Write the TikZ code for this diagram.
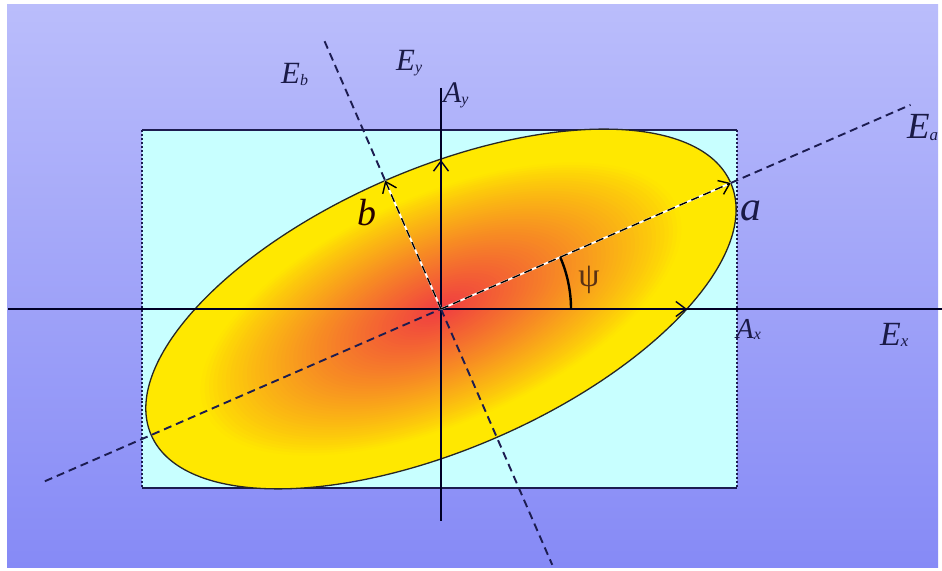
\documentclass[tikz,border=0pt]{standalone}
\usepackage{fontspec}
\setmainfont{Liberation Serif}
\usetikzlibrary{arrows.meta,calc}
\definecolor{bgtop}{RGB}{186,189,251}
\definecolor{bgbot}{RGB}{134,138,246}
\definecolor{boxfill}{RGB}{200,255,255}
\definecolor{navy}{RGB}{28,28,80}
\definecolor{elred}{RGB}{240,60,66}
\definecolor{elyel}{RGB}{255,232,0}
\definecolor{labc}{RGB}{26,26,70}
\definecolor{psic}{RGB}{90,50,20}
\newcommand\mylbl[4]{{\fontsize{#3}{#3}\selectfont\itshape #1}\raisebox{-0.35ex}{\fontsize{#4}{#4}\selectfont\itshape #2}}
\begin{document}
\begin{tikzpicture}[x=1bp,y=-1bp,
  axisline/.style={draw=black!85!blue, line width=1.2bp},
  dashline/.style={draw=navy, line width=1.9bp, dash pattern=on 8bp off 5bp},
  whiteline/.style={draw=white, line width=1.9bp},
  vecarrow/.style={line width=1.4bp, -{Straight Barb[length=10bp,width=15bp]}},
  lab/.style={inner sep=0pt, anchor=base west, text=labc},
  boxedge/.style={draw=navy, line width=1.5bp},
  boxside/.style={draw=navy, line width=2bp, dotted}]
\useasboundingbox (0,0) rectangle (942,571);
\fill[white] (0,0) rectangle (942,571);
\shade[top color=bgtop, bottom color=bgbot] (7,5) rectangle (938,567);

\coordinate (O) at (441,309);
\coordinate (R1) at (142,130);
\coordinate (R2) at (737,130);
\coordinate (R3) at (737,488);
\coordinate (R4) at (142,488);

\fill[boxfill] (R1) rectangle (R3);
\draw[boxedge] (R1) -- (R2);
\draw[boxedge] (R4) -- (R3);
\draw[boxside] (R2) -- (R3);
\draw[boxside] (R1) -- (R4);

\foreach \k in {0,...,69}{
  \pgfmathsetmacro\s{1-\k/70}
  \pgfmathsetmacro\u{max(0.0001,(0.82-\s)/0.82)}
  \pgfmathsetmacro\r{min(100,100*\u^0.85)}
  \fill[elred!\r!elyel, rotate around={23.5:(O)}] (O) ellipse[x radius=\s*316bp, y radius=\s*140bp];
}
\draw[black!85, line width=1.3bp, rotate around={23.5:(O)}] (O) ellipse[x radius=316bp, y radius=140bp];

\coordinate (Atip) at ($(O)+(23.5:316bp)$);
\coordinate (Btip) at ($(O)+(113.5:140bp)$);
\coordinate (Ea1) at ($(O)+(203.5:432bp)$);
\coordinate (Ea2) at ($(O)+(23.5:512bp)$);
\coordinate (Eb1) at ($(O)+(113.5:292bp)$);
\coordinate (Eb2) at ($(O)+(293.5:279bp)$);
\coordinate (Ax0) at (8,309);
\coordinate (Ax1) at (942,309);
\coordinate (Ay0) at (441,88);
\coordinate (Ay1) at (441,521);
\coordinate (AxT) at (687,309);
\coordinate (AyT) at (441,160);
\coordinate (ArcS) at ($(O)+(0:130bp)$);

\draw[axisline] (Ax0) -- (Ax1);
\draw[axisline] (Ay0) -- (Ay1);
\draw[axisline, vecarrow] (O) -- (AxT);
\draw[axisline, vecarrow] (O) -- (AyT);

\draw[dashline] (Ea1) -- (O);
\draw[dashline] (Atip) -- (Ea2);
\draw[dashline] (Eb1) -- (Btip);
\draw[dashline] (O) -- (Eb2);

\draw[whiteline] (O) -- (Atip);
\draw[whiteline] (O) -- (Btip);
\draw[dashline, draw=black, vecarrow] (O) -- (Atip);
\draw[dashline, draw=black, vecarrow] (O) -- (Btip);

\draw[black, line width=2.4bp] (ArcS) arc[start angle=0, end angle=23.5, radius=130bp];

\node[lab] (lEb) at (281,84) {\mylbl{E}{b}{31}{16}};
\node[lab] (lEy) at (396,71) {\mylbl{E}{y}{31}{16}};
\node[lab] (lAy) at (443,103) {\mylbl{A}{y}{30}{16}};
\node[lab] (lEa) at (907,139) {\mylbl{E}{a}{37}{17}};
\node[lab] (la) at (740,221) {\fontsize{42}{42}\selectfont\itshape a};
\node[lab, text=black!85!red] (lb) at (357,226) {\fontsize{38}{38}\selectfont\itshape b};
\node[inner sep=0pt, text=psic] (lpsi) at (589,280) {\fontsize{34}{34}\selectfont ψ};
\node[lab] (lAx) at (736,338) {\mylbl{A}{x}{29}{16}};
\node[lab] (lEx) at (880,345) {\mylbl{E}{x}{34}{17}};
\end{tikzpicture}
\end{document}
